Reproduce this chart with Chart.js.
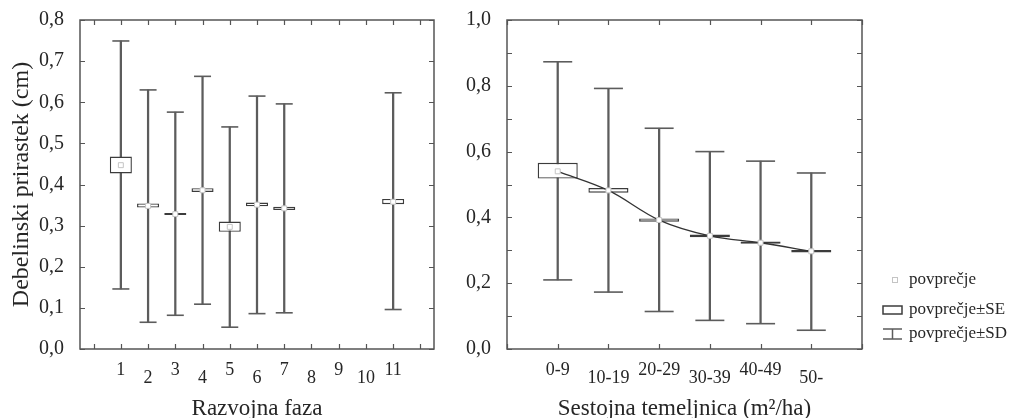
<!DOCTYPE html>
<html lang="sl">
<head>
<meta charset="UTF-8">
<title>Debelinski prirastek</title>
<script src="https://cdn.jsdelivr.net/npm/chart.js"></script>
<style>
  body { margin: 0; background: #fff; }
  #wrap { position: relative; width: 1014px; height: 418px; }
  .box { position: absolute; top: 0; height: 418px; }
  #leftBox { left: 0; width: 450px; }
  #rightBox { left: 450px; width: 564px; }
</style>
</head>
<body>
<div id="wrap">
  <div class="box" id="leftBox"><canvas id="phaseChart"></canvas></div>
  <div class="box" id="rightBox"><canvas id="basalChart"></canvas></div>
</div>

<script>
// left plot: razvojna faza (8, 9, 10 have no data)
const phaseLabels = ['1', '2', '3', '4', '5', '6', '7', '8', '9', '10', '11'];
const phaseMean   = [0.447, 0.348, 0.328, 0.386, 0.297, 0.351, 0.342, null, null, null, 0.358];
const phaseSeLow  = [0.427, 0.344, 0.326, 0.382, 0.285, 0.347, 0.338, null, null, null, 0.352];
const phaseSeHigh = [0.468, 0.354, 0.331, 0.391, 0.310, 0.356, 0.346, null, null, null, 0.365];
const phaseSdLow  = [0.146, 0.065, 0.082, 0.109, 0.053, 0.086, 0.088, null, null, null, 0.096];
const phaseSdHigh = [0.749, 0.630, 0.576, 0.663, 0.540, 0.615, 0.596, null, null, null, 0.623];

// right plot: sestojna temeljnica
const basalLabels = ['0-9', '10-19', '20-29', '30-39', '40-49', '50-'];
const basalMean   = [0.540, 0.482, 0.392, 0.344, 0.323, 0.297];
const basalSeLow  = [0.518, 0.475, 0.387, 0.340, 0.320, 0.293];
const basalSeHigh = [0.566, 0.489, 0.397, 0.348, 0.327, 0.301];
const basalSdLow  = [0.210, 0.173, 0.114, 0.087, 0.077, 0.057];
const basalSdHigh = [0.873, 0.792, 0.671, 0.600, 0.571, 0.535];

const legendLabels = ['povprečje', 'povprečje±SE', 'povprečje±SD'];

Chart.defaults.font.family = "'Liberation Serif', 'Times New Roman', serif";
Chart.defaults.color = '#262626';

const lineCol = '#5c5c5c';
const boxCol = '#3c3c3c';

function points(labels, values) {
  return labels.map((l, i) => values[i] == null ? null : { x: l, y: values[i] }).filter(p => p);
}
function ranges(labels, lo, hi) {
  return labels.map((l, i) => lo[i] == null ? null : { x: l, y: [lo[i], hi[i]] }).filter(p => p);
}
function comma(v) { return v.toFixed(1).replace('.', ','); }

// staggered category labels, like the original
function staggerLabel(value, index) {
  const lab = this.getLabelForValue(value);
  if (!lab.trim()) return '';
  return index % 2 ? lab : ['', lab];
}

// frame round the plot with inward ticks on all four sides
const framePlugin = {
  id: 'frame',
  afterDraw(chart) {
    const { ctx, chartArea: a, scales: { x, y } } = chart;
    const t = 5;
    ctx.save();
    ctx.strokeStyle = '#555';
    ctx.lineWidth = 1.5;
    ctx.strokeRect(a.left, a.top, a.right - a.left, a.bottom - a.top);
    ctx.lineWidth = 1.2;
    ctx.beginPath();
    y.ticks.forEach(tk => {
      const py = Math.round(y.getPixelForValue(tk.value)) + 0.5;
      ctx.moveTo(a.left, py); ctx.lineTo(a.left + t, py);
      ctx.moveTo(a.right, py); ctx.lineTo(a.right - t, py);
    });
    x.ticks.forEach((tk, i) => {
      const px = Math.round(x.getPixelForTick(i)) + 0.5;
      ctx.moveTo(px, a.top); ctx.lineTo(px, a.top + t);
      ctx.moveTo(px, a.bottom); ctx.lineTo(px, a.bottom - t);
    });
    ctx.stroke();
    ctx.restore();
  }
};

// legend to the right of the second plot
const statLegend = {
  id: 'statLegend',
  afterDraw(chart) {
    const { ctx, chartArea: a } = chart;
    const ix = a.right + 21, tx = a.right + 47;
    const rows = [a.bottom - 69, a.bottom - 39, a.bottom - 15];
    ctx.save();
    // mean marker
    ctx.strokeStyle = '#c4c4c4';
    ctx.lineWidth = 1;
    ctx.strokeRect(ix + 9.5, rows[0] - 2.5, 5, 5);
    // SE box
    ctx.strokeStyle = boxCol;
    ctx.lineWidth = 1.5;
    ctx.strokeRect(ix, rows[1] - 4, 19, 8);
    // SD whisker
    ctx.strokeStyle = lineCol;
    ctx.beginPath();
    ctx.moveTo(ix, rows[2] - 5); ctx.lineTo(ix + 19, rows[2] - 5);
    ctx.moveTo(ix + 9.5, rows[2] - 5); ctx.lineTo(ix + 9.5, rows[2] + 5);
    ctx.moveTo(ix, rows[2] + 5); ctx.lineTo(ix + 19, rows[2] + 5);
    ctx.stroke();
    ctx.fillStyle = '#262626';
    ctx.font = "17px 'Liberation Serif', serif";
    ctx.textBaseline = 'middle';
    legendLabels.forEach((txt, i) => ctx.fillText(txt, tx, rows[i]));
    ctx.restore();
  }
};

function makeDatasets(labels, mean, seLo, seHi, sdLo, sdHi, capRadius, withLine) {
  return [
    {
      type: 'line', data: points(labels, mean),
      showLine: withLine, borderColor: '#333', borderWidth: 1.3, tension: 0.35,
      pointStyle: 'rect', pointRadius: 3.5, pointBackgroundColor: '#fff',
      pointBorderColor: '#c4c4c4', pointBorderWidth: 1
    },
    {
      type: 'bar', data: ranges(labels, seLo, seHi), grouped: false,
      backgroundColor: '#fff', borderColor: boxCol, borderWidth: 1.4, borderSkipped: false
    },
    {
      type: 'line', data: points(labels, sdHi), showLine: false,
      pointStyle: 'line', pointRadius: capRadius, pointBorderColor: lineCol, pointBorderWidth: 1.6
    },
    {
      type: 'line', data: points(labels, sdLo), showLine: false,
      pointStyle: 'line', pointRadius: capRadius, pointBorderColor: lineCol, pointBorderWidth: 1.6
    },
    {
      type: 'bar', data: ranges(labels, sdLo, sdHi), grouped: false,
      backgroundColor: lineCol, borderWidth: 0, barThickness: 1.6
    }
  ];
}

const xTicks = { autoSkip: false, maxRotation: 0, padding: 9.5, font: { size: 18, lineHeight: '8px' }, callback: staggerLabel };

new Chart(document.getElementById('phaseChart'), {
  type: 'bar',
  data: { datasets: makeDatasets(phaseLabels, phaseMean, phaseSeLow, phaseSeHigh, phaseSdLow, phaseSdHigh, 8.5, false) },
  options: {
    responsive: true, maintainAspectRatio: false, animation: false, events: [],
    layout: { padding: { top: 19, right: 16, bottom: 0, left: 0 } },
    datasets: { bar: { barPercentage: 0.81, categoryPercentage: 1 } },
    plugins: { legend: { display: false }, tooltip: { enabled: false } },
    scales: {
      x: {
        type: 'category', labels: ['', ...phaseLabels, ' '], offset: true,
        grid: { display: false }, border: { display: false },
        ticks: xTicks,
        title: { display: true, text: 'Razvojna faza', font: { size: 23, lineHeight: 0.78 }, padding: 0 },
        afterFit: s => { s.height = 69; }
      },
      y: {
        min: 0, max: 0.8,
        grid: { display: false }, border: { display: false },
        ticks: { stepSize: 0.1, padding: 8, font: { size: 20 }, callback: v => comma(v) },
        title: { display: true, text: 'Debelinski prirastek (cm)', font: { size: 24 }, padding: { top: 7, bottom: 0 } },
        afterFit: s => { s.width = 80; }
      }
    }
  },
  plugins: [framePlugin]
});

new Chart(document.getElementById('basalChart'), {
  type: 'bar',
  data: { datasets: makeDatasets(basalLabels, basalMean, basalSeLow, basalSeHigh, basalSdLow, basalSdHigh, 14.5, true) },
  options: {
    responsive: true, maintainAspectRatio: false, animation: false, events: [],
    layout: { padding: { top: 19, right: 152, bottom: 0, left: 0 } },
    datasets: { bar: { barPercentage: 0.79, categoryPercentage: 1 } },
    plugins: { legend: { display: false }, tooltip: { enabled: false } },
    scales: {
      x: {
        type: 'category', labels: ['', ...basalLabels, ' '], offset: false,
        grid: { display: false }, border: { display: false },
        ticks: xTicks,
        title: { display: true, text: 'Sestojna temeljnica (m²/ha)', font: { size: 23, lineHeight: 0.78 }, padding: 0 },
        afterFit: s => { s.height = 69; }
      },
      y: {
        min: 0, max: 1.0,
        grid: { display: false }, border: { display: false },
        ticks: { stepSize: 0.1, padding: 8, font: { size: 20 },
          callback: v => Math.round(v * 10) % 2 ? '' : comma(v) },
        afterFit: s => { s.width = 57; }
      }
    }
  },
  plugins: [framePlugin, statLegend]
});
</script>
</body>
</html>
